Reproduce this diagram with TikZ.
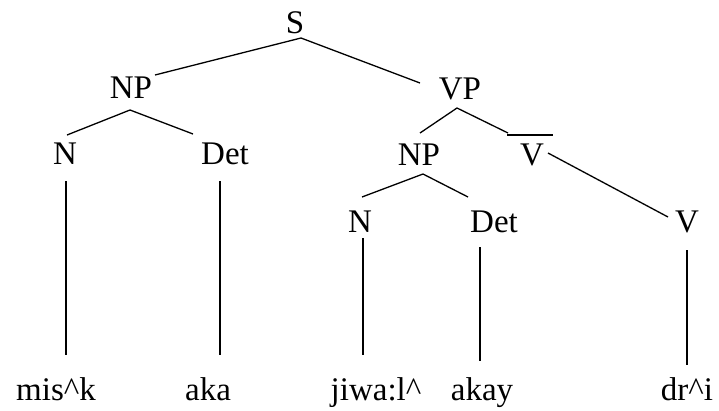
\documentclass[tikz,border=0pt]{standalone}
\usepackage{fontspec}
\setmainfont{Liberation Serif}
\usetikzlibrary{calc}
\begin{document}
\begin{tikzpicture}[x=1pt,y=-1pt,
  lbl/.style={anchor=base,inner sep=0pt,font=\fontsize{33}{40}\selectfont},
  edge/.style={line width=1.3pt}]
\useasboundingbox (0,0) rectangle (719,410);
\node[lbl] (S) at (295,33) {S};
\node[lbl] (NP1) at (131,98) {NP};
\node[lbl] (VP) at (460,99) {VP};
\node[lbl] (N1) at (65,164) {N};
\node[lbl] (Det1) at (225,164) {Det};
\node[lbl] (NP2) at (419,165) {NP};
\node[lbl] (Vbar) at (532,165) {V};
\node[lbl] (N2) at (360,232) {N};
\node[lbl] (Det2) at (494,232) {Det};
\node[lbl] (V) at (687,232) {V};
\node[lbl] (w1) at (56,400) {mis\^{}k};
\node[lbl] (w2) at (208,400) {aka};
\node[lbl] (w3) at (376,400) {jiwa:l\^{}};
\node[lbl] (w4) at (482,400) {akay};
\node[lbl] (w5) at (687,400) {dr\^{}i};
% S
\draw[edge] ($(NP1.base)+(24,-23)$) -- ($(S.base)+(6,5)$) -- ($(VP.base)+(-40,-16)$);
% NP1
\draw[edge] ($(N1.base)+(2,-29)$) -- ($(NP1.base)+(-1,12)$) -- ($(Det1.base)+(-32,-30)$);
% VP
\draw[edge] ($(NP2.base)+(1,-32)$) -- ($(VP.base)+(-3,9)$) -- ($(Vbar.base)+(-24,-32)$);
% overline of V-bar
\draw[edge] ($(Vbar.base)+(-25,-30)$) -- ($(Vbar.base)+(21,-30)$);
% Vbar -> V
\draw[edge] ($(Vbar.base)+(16,-12)$) -- ($(V.base)+(-19,-15)$);
% NP2
\draw[edge] ($(N2.base)+(2,-35)$) -- ($(NP2.base)+(4,9)$) -- ($(Det2.base)+(-26,-35)$);
% terminals
\draw[edge] ($(N1.base)+(1,17)$) -- ($(w1.base)+(10,-45)$);
\draw[edge] ($(Det1.base)+(-5,17)$) -- ($(w2.base)+(12,-45)$);
\draw[edge] ($(N2.base)+(3,6)$) -- ($(w3.base)+(-13,-45)$);
\draw[edge] ($(Det2.base)+(-14,15)$) -- ($(w4.base)+(-2,-39)$);
\draw[edge] ($(V.base)+(0,18)$) -- ($(w5.base)+(0,-35)$);
\end{tikzpicture}
\end{document}
